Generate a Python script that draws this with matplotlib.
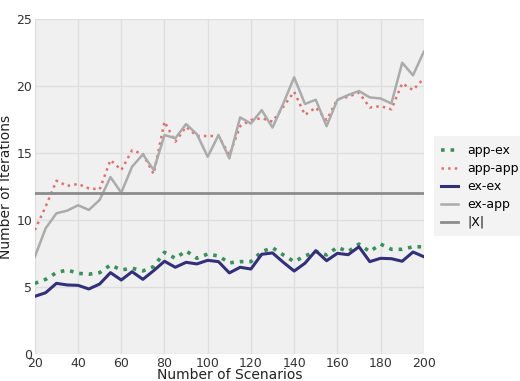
import numpy as np
import matplotlib
matplotlib.use("Agg")
import matplotlib.pyplot as plt

scenarios = np.arange(20, 201, 5)

app_ex = [5.27, 5.57, 6.07, 6.27, 6.02, 5.95, 6.07, 6.64, 6.27, 6.4, 6.2, 6.52,
          7.59, 7.14, 7.69, 7.14, 7.46, 7.31, 6.8, 6.89, 6.89, 7.64, 7.93, 7.39,
          6.89, 7.31, 7.64, 7.39, 7.96, 7.64, 8.2, 7.64, 8.2, 7.81, 7.81, 8.0, 8.0]
app_app = [9.25, 11.0, 12.93, 12.54, 12.69, 12.36, 12.29, 14.48, 13.73, 15.2, 14.93,
           13.43, 17.34, 15.84, 16.96, 16.27, 16.27, 16.27, 14.85, 17.0, 17.46, 17.6,
           17.34, 18.46, 19.57, 17.84, 18.4, 17.46, 19.0, 19.2, 19.5, 18.4, 18.5,
           18.26, 20.2, 19.7, 20.57]
ex_ex = [4.3, 4.57, 5.27, 5.15, 5.12, 4.85, 5.22, 6.07, 5.52, 6.14, 5.57, 6.22,
         6.92, 6.47, 6.84, 6.72, 6.99, 6.89, 6.05, 6.47, 6.34, 7.44, 7.54, 6.84,
         6.19, 6.77, 7.71, 6.96, 7.51, 7.41, 8.0, 6.89, 7.14, 7.11, 6.92, 7.61, 7.26]
ex_app = [7.26, 9.38, 10.5, 10.7, 11.1, 10.75, 11.5, 13.2, 12.04, 13.98, 14.9,
          13.73, 16.34, 16.1, 17.16, 16.4, 14.72, 16.34, 14.6, 17.66, 17.2, 18.2,
          16.9, 18.7, 20.65, 18.66, 18.98, 17.0, 18.96, 19.33, 19.63, 19.15, 19.07,
          18.7, 21.74, 20.8, 22.56]
x_size = 12

fig = plt.figure(figsize=(5.2, 3.81), dpi=100)
ax = fig.add_axes([0.067, 0.071, 0.748, 0.879])
ax.set_facecolor('#f0f0f0')

ax.plot(scenarios, app_ex, ':', color='#3a8f5a', lw=2.6, label='app-ex')
ax.plot(scenarios, app_app, ':', color='#e07070', lw=1.8, label='app-app')
ax.plot(scenarios, ex_ex, '-', color='#33307a', lw=2.2, label='ex-ex')
ax.plot(scenarios, ex_app, '-', color='#ababab', lw=1.8, label='ex-app')
ax.axhline(x_size, color='#8c8c8c', lw=2.0, label='|X|')

ax.set_xlim(20, 200)
ax.set_ylim(0, 25)
ax.set_xticks(np.arange(20, 201, 20))
ax.set_yticks(np.arange(0, 26, 5))
ax.grid(True, color='#dedede', lw=1.0)
ax.set_axisbelow(True)
for s in ax.spines.values():
    s.set_visible(False)
ax.tick_params(length=0, labelsize=9, colors='#333333', pad=2)

ax.set_xlabel('Number of Scenarios', fontsize=10, color='#222222', labelpad=-1)
ax.set_ylabel('Number of Iterations', fontsize=10, color='#222222', labelpad=2)

leg = ax.legend(loc='center left', bbox_to_anchor=(1.01, 0.5), fontsize=9,
                frameon=True, fancybox=False, handlelength=1.3,
                borderpad=0.6, labelspacing=0.4, handletextpad=0.8)
leg.get_frame().set_facecolor('#f0f0f0')
leg.get_frame().set_edgecolor('none')

fig.savefig('out.png', dpi=100)
